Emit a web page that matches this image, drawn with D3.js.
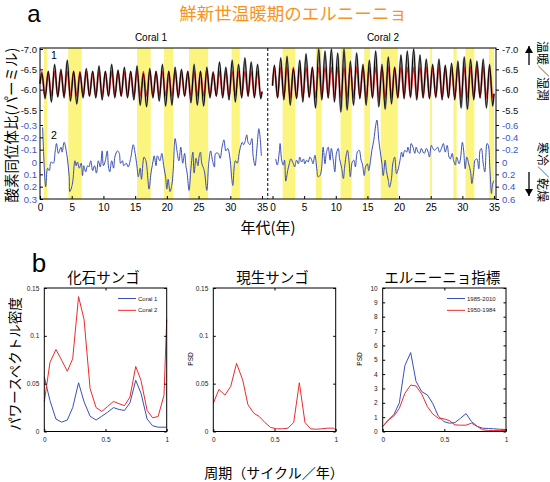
<!DOCTYPE html>
<html><head><meta charset="utf-8">
<script src="https://cdn.jsdelivr.net/npm/d3@7"></script>
<style>body{margin:0;background:#fff}svg{display:block}</style>
</head><body>
<svg id="c" width="550" height="482"></svg>
<script>
// ---------------- DATA ----------------
// Panel a: yellow (El Nino) bands, in years
const c1Bands = [[0.63,1.1],[4.46,6.57],[15.3,17.45],[19.55,21.0],[23.5,26.5],[30.2,31.5]];
const c2Bands = [[1.6,3.6],[6.86,7.76],[10.75,12.5],[14.5,15.4],[17.1,19.8],[24.9,25.2],[28.6,29.1],[30.5,31.9],[34.2,35.0]];

// Coral 1 oxygen isotope (black): annual extremes
const c1Peak   = [-6.40,-6.45,-6.62,-6.50,-6.72,-6.45,-6.42,-6.52,-6.45,-6.58,-6.45,-6.62,-6.48,-6.55,-6.45,-6.58,-6.40,-6.52,-6.45,-6.62,-6.45,-6.55,-6.50,-6.45,-6.62,-6.45,-6.55,-6.42,-6.68,-6.55,-6.72,-6.62,-6.78,-6.68,-6.62];
const c1Trough = [-5.78,-5.70,-5.82,-5.80,-5.72,-5.65,-5.80,-5.84,-5.80,-5.75,-5.84,-5.80,-5.84,-5.80,-5.75,-5.62,-5.58,-5.80,-5.72,-5.60,-5.62,-5.80,-5.84,-5.68,-5.62,-5.60,-5.80,-5.84,-5.80,-5.75,-5.70,-5.80,-5.84,-5.80,-5.78];
// Coral 1 climatology (red)
const c1RedPeak   = [-6.45,-6.45,-6.45,-6.45,-6.45,-6.45,-6.45,-6.45,-6.45,-6.45,-6.45,-6.45,-6.45,-6.45,-6.45,-6.45,-6.45,-6.45,-6.45,-6.45,-6.45,-6.45,-6.45,-6.45,-6.45,-6.45,-6.45,-6.45,-6.45,-6.45,-6.45,-6.45,-6.45,-6.45,-6.45];
const c1RedTrough = [-5.84,-5.84,-5.84,-5.84,-5.84,-5.84,-5.84,-5.84,-5.84,-5.84,-5.84,-5.84,-5.84,-5.84,-5.84,-5.84,-5.84,-5.84,-5.84,-5.84,-5.84,-5.84,-5.84,-5.84,-5.84,-5.84,-5.84,-5.84,-5.84,-5.84,-5.84,-5.84,-5.84,-5.84,-5.84];

// Coral 2 oxygen isotope (black)
const c2Peak   = [-6.60,-6.78,-6.82,-6.52,-6.72,-6.88,-6.55,-7.00,-6.95,-7.00,-6.90,-7.00,-6.70,-6.90,-6.62,-6.72,-6.95,-6.62,-6.80,-6.55,-6.85,-6.95,-7.00,-6.85,-6.75,-6.62,-6.75,-6.60,-6.65,-6.70,-6.80,-6.75,-6.70,-6.75,-6.62];
const c2Trough = [-5.80,-5.75,-5.62,-5.78,-5.70,-5.82,-5.55,-5.75,-5.80,-5.70,-5.45,-5.50,-5.62,-5.78,-5.62,-5.80,-5.58,-5.52,-5.65,-5.80,-5.78,-5.82,-5.75,-5.80,-5.78,-5.82,-5.75,-5.80,-5.75,-5.55,-5.52,-5.75,-5.80,-5.55,-5.60];
const c2RedPeak   = [-6.55,-6.55,-6.55,-6.55,-6.55,-6.55,-6.55,-6.55,-6.55,-6.55,-6.55,-6.55,-6.55,-6.55,-6.55,-6.55,-6.55,-6.55,-6.55,-6.55,-6.55,-6.55,-6.55,-6.55,-6.55,-6.55,-6.55,-6.55,-6.55,-6.55,-6.55,-6.55,-6.55,-6.55,-6.55];
const c2RedTrough = [-5.80,-5.80,-5.80,-5.80,-5.80,-5.80,-5.80,-5.80,-5.80,-5.80,-5.80,-5.80,-5.80,-5.80,-5.80,-5.80,-5.80,-5.80,-5.80,-5.80,-5.80,-5.80,-5.80,-5.80,-5.80,-5.80,-5.80,-5.80,-5.80,-5.80,-5.80,-5.80,-5.80,-5.80,-5.80];

// Anomaly series (blue): [year, value]
const c1Blue = [[0.42,-0.28],[0.9,0.20],[1.2,0.05],[1.47,0.07],[1.73,0.0],[2.1,0.01],[2.4,-0.09],[2.6,-0.15],[2.9,-0.07],[3.3,-0.12],[3.5,-0.08],[3.8,-0.16],[4.2,-0.07],[4.6,0.12],[4.7,0.24],[5.1,0.18],[5.5,-0.01],[5.7,0.03],[5.9,0.0],[6.2,0.05],[6.5,0.01],[6.7,0.11],[6.9,0.03],[7.2,0.08],[7.5,0.03],[7.7,0.04],[8.0,-0.01],[8.3,0.07],[8.6,0.03],[8.9,0.09],[9.2,-0.01],[9.5,0.04],[9.8,-0.09],[10.0,0.03],[10.3,-0.01],[10.6,-0.09],[10.8,0.04],[11.0,0.08],[11.3,-0.01],[11.6,0.05],[11.8,-0.04],[12.2,-0.09],[12.5,-0.07],[12.7,0.01],[13.0,-0.01],[13.2,0.03],[13.6,0.01],[13.9,0.04],[14.3,-0.03],[14.7,-0.14],[15.0,-0.07],[15.3,0.04],[15.5,0.12],[15.8,0.05],[16.0,0.14],[16.4,-0.04],[16.7,-0.01],[16.9,0.07],[17.2,0.22],[17.5,0.09],[17.8,0.0],[18.0,-0.05],[18.3,0.03],[18.5,-0.05],[18.9,-0.01],[19.2,-0.07],[19.5,0.03],[19.8,0.12],[20.0,0.22],[20.2,0.14],[20.5,0.24],[20.8,0.18],[21.0,0.07],[21.3,-0.19],[21.6,-0.09],[21.9,-0.01],[22.2,-0.12],[22.5,0.01],[22.8,-0.07],[23.0,0.03],[23.2,0.09],[23.5,0.23],[23.8,0.05],[24.1,-0.08],[24.3,0.09],[24.6,-0.03],[24.9,0.03],[25.1,-0.05],[25.3,-0.08],[25.5,0.01],[25.9,0.07],[26.3,0.23],[26.6,0.01],[26.9,-0.09],[27.2,-0.01],[27.5,0.04],[27.7,-0.07],[28.1,-0.07],[28.4,-0.03],[28.7,-0.12],[29.0,-0.18],[29.3,-0.09],[29.6,-0.11],[30.0,-0.01],[30.2,0.12],[30.4,0.19],[30.6,0.05],[30.8,-0.01],[31.1,0.01],[31.4,-0.07],[31.6,-0.12],[31.9,-0.16],[32.1,-0.14],[32.3,-0.16],[32.6,-0.22],[32.8,-0.16],[33.1,-0.14],[33.4,-0.19],[33.6,-0.05],[33.9,0.03],[34.2,-0.11],[34.5,-0.27],[34.7,-0.20],[34.9,-0.05]];
const c2Blue = [[0.5,-0.05],[0.76,0.05],[1.1,-0.19],[1.2,-0.30],[1.45,-0.03],[1.7,0.05],[1.9,-0.03],[2.1,0.31],[2.4,0.14],[2.65,0.03],[2.9,-0.05],[3.3,0.03],[3.5,0.08],[3.8,-0.03],[4.1,0.03],[4.3,-0.08],[4.6,0.0],[4.9,-0.05],[5.1,0.03],[5.4,-0.03],[5.65,0.0],[5.9,-0.08],[6.2,-0.03],[6.4,0.03],[6.7,-0.11],[7.0,0.11],[7.2,0.24],[7.5,0.22],[7.75,0.11],[8.0,-0.24],[8.3,0.03],[8.5,-0.14],[8.8,-0.24],[9.1,-0.03],[9.3,-0.22],[9.6,-0.03],[9.85,0.16],[10.1,-0.14],[10.4,-0.22],[10.6,-0.05],[10.9,0.08],[11.2,0.27],[11.4,0.08],[11.7,-0.14],[11.85,-0.19],[12.1,0.0],[12.3,0.24],[12.6,0.0],[12.85,-0.03],[13.1,0.08],[13.4,-0.16],[13.7,-0.19],[14.0,-0.03],[14.2,0.03],[14.5,0.22],[14.7,0.08],[15.0,0.03],[15.2,0.14],[15.5,-0.03],[15.7,-0.19],[16.0,-0.35],[16.3,-0.59],[16.5,-0.68],[16.8,-0.35],[17.0,-0.19],[17.3,0.03],[17.5,0.22],[17.8,-0.03],[18.0,0.14],[18.3,0.30],[18.5,0.41],[18.8,0.27],[19.0,0.03],[19.3,-0.08],[19.6,0.19],[19.8,0.14],[20.1,0.0],[20.4,-0.16],[20.6,-0.08],[20.9,-0.19],[21.2,-0.16],[21.4,-0.24],[21.7,-0.14],[21.9,-0.30],[22.2,-0.24],[22.5,-0.14],[22.7,-0.24],[23.0,-0.16],[23.25,-0.14],[23.5,-0.22],[23.8,-0.16],[24.0,-0.14],[24.3,-0.22],[24.6,-0.16],[24.8,-0.08],[25.1,-0.27],[25.35,-0.22],[25.6,-0.19],[25.9,-0.22],[26.1,-0.24],[26.4,-0.16],[26.7,-0.22],[27.0,-0.30],[27.3,-0.16],[27.6,-0.27],[27.9,-0.08],[28.1,-0.05],[28.4,-0.14],[28.6,-0.03],[28.9,0.05],[29.1,-0.08],[29.5,0.03],[29.7,-0.05],[30.0,-0.32],[30.2,-0.19],[30.45,0.11],[30.7,-0.08],[31.0,0.03],[31.3,0.16],[31.5,0.35],[31.8,0.14],[32.0,-0.03],[32.3,-0.05],[32.6,0.11],[32.8,-0.19],[33.0,-0.22],[33.3,0.03],[33.55,0.16],[33.9,-0.30],[34.1,-0.27],[34.35,0.11],[34.6,0.51],[34.7,0.41],[34.9,0.32],[35.0,0.30]];

const yearTicks = [0,5,10,15,20,25,30,35];
const isoTicks = [-7.0,-6.5,-6.0,-5.5];
const anomTicksL = [-0.3,-0.2,-0.1,0,0.1,0.2,0.3];
const anomTicksR = [-0.6,-0.4,-0.2,0,0.2,0.4,0.6];

// Panel b: power spectra
const freqA = [0,0.046,0.095,0.142,0.188,0.232,0.28,0.325,0.374,0.423,0.47,0.516,0.565,0.611,0.655,0.70,0.747,0.79,0.84,0.885,0.93,0.978,1.0];
const fossilC1 = [0.057,0.0325,0.013,0.0098,0.012,0.025,0.051,0.031,0.016,0.012,0.016,0.020,0.025,0.023,0.022,0.030,0.0535,0.040,0.013,0.006,0.0045,0.0045,0.0045];
const fossilC2 = [0.031,0.072,0.0857,0.0745,0.063,0.076,0.141,0.117,0.045,0.025,0.021,0.026,0.0315,0.029,0.027,0.036,0.068,0.0535,0.022,0.0143,0.0157,0.038,0.117];
const freqB = [0,0.046,0.095,0.142,0.19,0.24,0.283,0.332,0.376,0.422,0.469,0.518,0.564,0.61,0.657,0.703,0.749,0.796,0.842,0.888,0.935,0.98,1.0];
const modern = [0.0295,0.044,0.038,0.047,0.0712,0.054,0.028,0.019,0.0156,0.0094,0.0042,0.0028,0.0028,0.0035,0.0094,0.051,0.0094,0.0028,0.0024,0.0028,0.0035,0.0035,0.0017];
const freqC = [0,0.046,0.092,0.135,0.18,0.227,0.27,0.316,0.362,0.405,0.45,0.497,0.54,0.586,0.632,0.676,0.72,0.768,0.81,0.857,0.9,0.946,1.0];
const nino8510 = [0.35,0.8,1.2,2.0,4.6,5.5,3.5,2.78,2.55,1.97,1.09,0.69,0.58,0.62,0.93,1.25,0.69,0.35,0.23,0.21,0.19,0.16,0.14];
const nino5084 = [0.35,0.8,1.09,1.62,2.66,3.24,3.17,2.62,1.74,1.23,0.93,0.88,0.76,0.46,0.44,0.44,0.58,0.35,0.12,0.07,0.07,0.07,0.07];
const freqTicks = [0,0.5,1];
const psdTicksA = [0,0.05,0.1,0.15];
const psdTicksC = [0,1,2,3,4,5,6,7,8,9,10];

// ---------------- DRAW ----------------
const svg = d3.select("#c");
const JP = "'Noto Sans CJK JP','Noto Sans CJK SC',sans-serif";
const LAT = "'Liberation Sans',Arial,Helvetica,sans-serif";
const BLUE = "#3a4fb8", BLUE_T = "#3d52c8", RED = "#ee2a2a", YEL = "#fbf47e";
const hy = v => (v < 0 ? "-" : "") + Math.abs(v).toFixed(1);
const hy0 = v => v === 0 ? "0" : hy(v);

const x1 = d3.scaleLinear().domain([0,35]).range([40,262]);
const x2 = d3.scaleLinear().domain([0,35]).range([272.5,494]);
const yIso = d3.scaleLinear().domain([-7.0,-5.5]).range([49,110]);
const yA1 = d3.scaleLinear().domain([-0.3,0.3]).range([125,199]);
const yA2 = d3.scaleLinear().domain([-0.6,0.6]).range([125,199]);
const FT = 48, FB = 199, FL = 40, FR = 496;

[[c1Bands,x1],[c2Bands,x2]].forEach(([b,x]) => {
  svg.append("g").selectAll("rect").data(b).join("rect")
    .attr("x", d => x(d[0])).attr("width", d => x(d[1]) - x(d[0]))
    .attr("y", FT).attr("height", FB - FT).attr("fill", YEL);
});

function cycle(peaks, troughs, start, end) {
  const pts = [[0, start]];
  peaks.forEach((p, i) => { pts.push([i + 0.3, p]); pts.push([i + 0.8, troughs[i]]); });
  pts.push([35, end]);
  return pts;
}
const c1Black = cycle(c1Peak, c1Trough, -6.15, -5.95);
const c1Red = cycle(c1RedPeak, c1RedTrough, -6.15, -5.95);
const c2Black = cycle(c2Peak, c2Trough, -6.1, -5.9);
const c2Red = cycle(c2RedPeak, c2RedTrough, -6.1, -5.9);

function drawLine(data, x, y, color, w, curve) {
  svg.append("path").datum(data)
    .attr("d", d3.line().x(d => x(d[0])).y(d => y(d[1])).curve(curve || d3.curveLinear))
    .attr("fill", "none").attr("stroke", color).attr("stroke-width", w).attr("stroke-linejoin", "round");
}
[[c1Black,c1Red,x1],[c2Black,c2Red,x2]].forEach(([b,r,x]) => {
  drawLine(b, x, yIso, "#a8a8a8", 2.2, d3.curveMonotoneX);
  drawLine(r, x, yIso, RED, 1.4, d3.curveMonotoneX);
  drawLine(b, x, yIso, "#000", 1.05, d3.curveMonotoneX);
});
drawLine(c1Blue, x1, yA1, BLUE, 1, d3.curveCatmullRom);
drawLine(c2Blue, x2, yA2, BLUE, 1, d3.curveCatmullRom);

svg.append("rect").attr("x", FL).attr("y", FT).attr("width", FR - FL).attr("height", FB - FT)
  .attr("fill", "none").attr("stroke", "#000").attr("stroke-width", 1);
svg.append("line").attr("x1", (x1(35) + x2(0)) / 2 + 0.5).attr("x2", (x1(35) + x2(0)) / 2 + 0.5)
  .attr("y1", FT).attr("y2", FB).attr("stroke", "#000").attr("stroke-dasharray", "3,2");

function styleAxis(g, color, size) {
  g.select(".domain").remove();
  g.selectAll("line").attr("stroke", "#000");
  g.selectAll("text").attr("fill", color).attr("font-family", LAT).attr("font-size", size);
}
[x1, x2].forEach(x => {
  svg.append("g").attr("transform", `translate(0,${FB})`)
    .call(d3.axisBottom(x).tickValues(yearTicks).tickFormat(d3.format("d")).tickSize(-3).tickPadding(5))
    .call(g => styleAxis(g, "#000", 10));
});
svg.append("g").attr("transform", `translate(${FL},0)`)
  .call(d3.axisLeft(yIso).tickValues(isoTicks).tickFormat(hy).tickSize(-3).tickPadding(3))
  .call(g => styleAxis(g, "#111", 9.5));
svg.append("g").attr("transform", `translate(${FL},0)`)
  .call(d3.axisLeft(yA1).tickValues(anomTicksL).tickFormat(hy0).tickSize(-3).tickPadding(3))
  .call(g => styleAxis(g, BLUE_T, 9.5));
svg.append("g").attr("transform", `translate(${FR},0)`)
  .call(d3.axisRight(yIso).tickValues(isoTicks).tickFormat(hy).tickSize(3).tickPadding(3))
  .call(g => styleAxis(g, "#111", 9.5));
svg.append("g").attr("transform", `translate(${FR},0)`)
  .call(d3.axisRight(yA2).tickValues(anomTicksR).tickFormat(hy0).tickSize(3).tickPadding(3))
  .call(g => styleAxis(g, BLUE_T, 9.5));

const txt = (s, x, y, o) => {
  const t = svg.append("text").attr("x", x).attr("y", y).text(s)
    .attr("font-family", o.f || JP).attr("font-size", o.s).attr("fill", o.c || "#000")
    .attr("text-anchor", o.a || "middle");
  if (o.r) t.attr("transform", `rotate(${o.r},${x},${y})`);
  if (o.db) t.attr("dominant-baseline", "central");
  return t;
};
txt("a", 34, 22, {f: LAT, s: 24});
txt("鮮新世温暖期のエルニーニョ", 293, 20, {s: 17.5, c: "#f7941d"});
txt("Coral 1", 151, 41, {f: LAT, s: 10});
txt("Coral 2", 383, 41, {f: LAT, s: 10});
txt("1", 54, 59, {f: LAT, s: 10.5});
txt("2", 54, 139, {f: LAT, s: 10.5});
txt("酸素同位体比(パーミル)", 10, 125, {s: 14.5, r: -90, db: true});
txt("年代(年)", 268, 233, {s: 15});
txt("温暖／湿潤", 543, 71, {s: 12, r: 90, db: true});
txt("寒冷／乾燥", 543, 172, {s: 12, r: 90, db: true});
const arrow = (xa, y0, y1) => {
  svg.append("line").attr("x1", xa).attr("x2", xa).attr("y1", y0).attr("y2", y1).attr("stroke", "#000").attr("stroke-width", 1.3);
  const d = y1 < y0 ? -1 : 1;
  svg.append("path").attr("d", `M${xa - 4},${y1 - d * 7}L${xa + 4},${y1 - d * 7}L${xa},${y1}Z`).attr("fill", "#000");
};
arrow(529, 65, 46);
arrow(529, 172, 196);

// ---------------- Panel b ----------------
const yTop = 288, yBot = 431.5;
const panels = [
  {x0: 44.3, x1: 166.7, max: 0.15, ticks: psdTicksA, title: "化石サンゴ", fmt: v => v === 0 ? "0" : String(v), psd: false,
   series: [[freqA, fossilC1, BLUE], [freqA, fossilC2, RED]], legend: ["Coral 1", "Coral 2"], lx: 118},
  {x0: 213.3, x1: 335.7, max: 0.15, ticks: psdTicksA, title: "現生サンゴ", fmt: v => v === 0 ? "0" : String(v), psd: true,
   series: [[freqB, modern, RED]]},
  {x0: 382.7, x1: 506, max: 10, ticks: psdTicksC, title: "エルニーニョ指標", fmt: d3.format("d"), psd: true,
   series: [[freqC, nino8510, BLUE], [freqC, nino5084, RED]], legend: ["1985-2010", "1950-1984"], lx: 447}
];
panels.forEach(p => {
  const x = d3.scaleLinear().domain([0, 1]).range([p.x0, p.x1]);
  const y = d3.scaleLinear().domain([0, p.max]).range([yBot, yTop]);
  p.series.forEach(([fx, vy, col]) => {
    const data = fx.map((f, i) => [f, vy[i]]);
    drawLine(data, x, y, col, 1, d3.curveLinear);
  });
  svg.append("rect").attr("x", p.x0).attr("y", yTop).attr("width", p.x1 - p.x0).attr("height", yBot - yTop)
    .attr("fill", "none").attr("stroke", "#000").attr("stroke-width", 1);
  svg.append("g").attr("transform", `translate(0,${yBot})`)
    .call(d3.axisBottom(x).tickValues(freqTicks).tickFormat(d => d === 0.5 ? "0.5" : String(d)).tickSize(-2.5).tickPadding(6))
    .call(g => styleAxis(g, "#222", 6.5));
  svg.append("g").attr("transform", `translate(0,${yTop})`)
    .call(d3.axisTop(x).tickValues([0.5]).tickFormat("").tickSize(-2.5))
    .call(g => styleAxis(g, "#222", 6.5));
  svg.append("g").attr("transform", `translate(${p.x0},0)`)
    .call(d3.axisLeft(y).tickValues(p.ticks).tickFormat(p.fmt).tickSize(-2.5).tickPadding(5))
    .call(g => styleAxis(g, "#222", 6.5));
  svg.append("g").attr("transform", `translate(${p.x1},0)`)
    .call(d3.axisRight(y).tickValues(p.ticks).tickFormat("").tickSize(-2.5))
    .call(g => styleAxis(g, "#222", 6.5));
  txt(p.title, (p.x0 + p.x1) / 2 - 2, 283, {s: 14.5});
  if (p.psd) txt("PSD", p.x0 - 23, 359, {f: LAT, s: 6.5, r: -90, db: true});
  if (p.legend) {
    p.legend.forEach((lab, i) => {
      const ly = 298.5 + i * 11.8;
      svg.append("line").attr("x1", p.lx).attr("x2", p.lx + 18).attr("y1", ly).attr("y2", ly)
        .attr("stroke", p.series[i][2]).attr("stroke-width", 1);
      txt(lab, p.lx + 20, ly, {f: LAT, s: 6, a: "start", db: true, c: "#222"});
    });
  }
});
txt("b", 39, 272, {f: LAT, s: 26});
txt("パワースペクトル密度", 14, 364, {s: 13.5, r: -90, db: true});
txt("周期（サイクル／年）", 274, 478, {s: 14});
</script>
</body></html>
